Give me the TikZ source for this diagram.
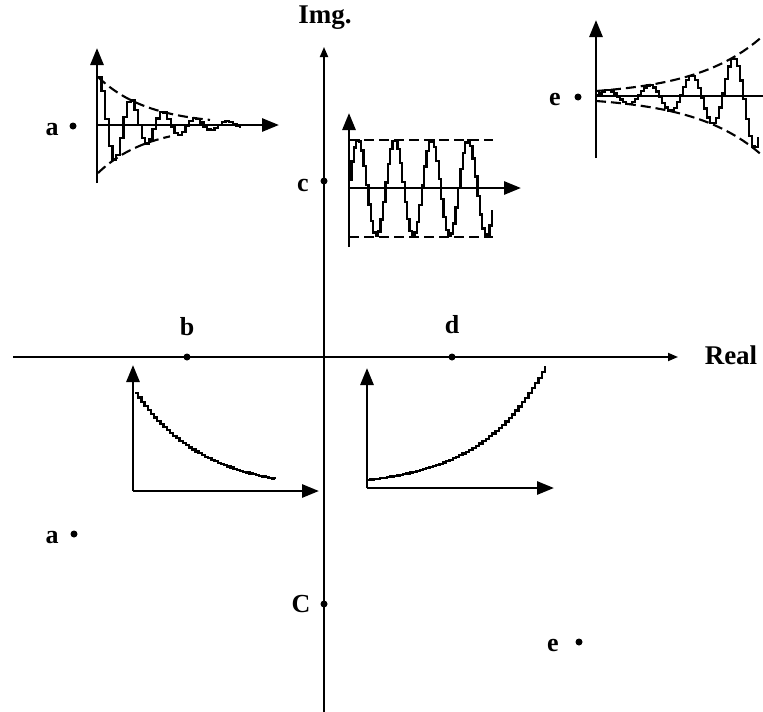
\documentclass[tikz,border=0pt]{standalone}
\usepackage{fontspec}
\setmainfont{Liberation Serif}
\usetikzlibrary{arrows.meta}
\begin{document}
\begin{tikzpicture}[x=1pt,y=-1pt,
  mainaxis/.style={line width=1.8pt,-{Triangle[length=10pt,width=8pt]}},
  insetaxis/.style={line width=2.8pt,-{Triangle[length=17pt,width=13pt]}},
  insetline/.style={line width=2.4pt},
  sig/.style={line width=2.3pt,line join=miter},
  env/.style={line width=2.1pt,dash pattern=on 10pt off 5pt},
  lbl/.style={font=\fontsize{26}{30}\selectfont\bfseries,inner sep=0pt},
  biglbl/.style={font=\fontsize{27}{30}\selectfont\bfseries,inner sep=0pt},
  dotpt/.style={circle,fill=black,inner sep=0pt,minimum size=7pt}
]
\useasboundingbox (0,0) rectangle (763,712);

% main axes
\coordinate (hstart) at (13,357);
\coordinate (hend) at (678,357);
\coordinate (vstart) at (324,712);
\coordinate (vend) at (324,47);
\draw[mainaxis] (hstart) -- (hend);
\draw[mainaxis] (vstart) -- (vend);
\node[biglbl] (img) at (325,18) {Img.};
\node[biglbl] (real) at (731,355) {Real};

% points and labels
\node[dotpt] (pb) at (187,357) {};
\node[lbl,anchor=base] (lb) at (187,335) {b};
\node[dotpt] (pd) at (452,357) {};
\node[lbl,anchor=base] (ld) at (452,333) {d};
\node[dotpt] (pc) at (324,181) {};
\node[lbl,anchor=base] (lc) at (303,191) {c};
\node[dotpt] (pC) at (324,604) {};
\node[lbl,anchor=base] (lC) at (301,612) {C};
\node[dotpt] (pa1) at (73,126) {};
\node[lbl,anchor=base] (la1) at (52,135) {a};
\node[dotpt] (pa2) at (74,534) {};
\node[lbl,anchor=base] (la2) at (52,543) {a};
\node[dotpt] (pe1) at (578,97) {};
\node[lbl,anchor=base] (le1) at (555,105) {e};
\node[dotpt] (pe2) at (579,642) {};
\node[lbl,anchor=base] (le2) at (553,651) {e};

% inset a : decaying oscillation
\coordinate (ao) at (97,125);
\coordinate (ab) at (97,183);
\coordinate (at) at (97,48);
\coordinate (ar) at (279,125);
\draw[insetaxis] (ab) -- (at);
\draw[insetaxis] (ao) -- (ar);
\draw[sig] plot[const plot,domain=98:240,samples=40] (\x,{125-48*exp(-0.02*(\x-98))*cos(11.25*(\x-98))});
\draw[env] plot[domain=98:210,samples=30] (\x,{125-48*exp(-0.02*(\x-98))});
\draw[env] plot[domain=98:170,samples=30] (\x,{125+48*exp(-0.02*(\x-98))});

% inset c : sustained oscillation
\coordinate (cb) at (349,247);
\coordinate (ct) at (349,113);
\coordinate (co) at (349,188);
\coordinate (cr) at (521,188);
\coordinate (cu1) at (349,140);
\coordinate (cu2) at (493,140);
\coordinate (cl1) at (349,237);
\coordinate (cl2) at (493,237);
\draw[insetaxis] (cb) -- (ct);
\draw[insetaxis] (co) -- (cr);
\draw[env] (cu1) -- (cu2);
\draw[env] (cl1) -- (cl2);
\draw[sig] plot[const plot,domain=349:492,samples=60] (\x,{188-48*sin(9.809*(\x-348))});

% inset e : growing oscillation
\coordinate (eb) at (596,158);
\coordinate (et) at (596,20);
\coordinate (eo) at (596,96);
\coordinate (er) at (763,96);
\draw[insetaxis] (eb) -- (et);
\draw[insetline] (eo) -- (er);
\draw[sig] plot[const plot,domain=596:758,samples=55] (\x,{96+5*exp(0.0149*(\x-596))*sin(8.5714*(\x-616.5))});
\draw[env] plot[domain=596:760,samples=30] (\x,{96-5*exp(0.0149*(\x-596))});
\draw[env] plot[domain=596:760,samples=30] (\x,{96+5*exp(0.0149*(\x-596))});

% inset b : decaying exponential
\coordinate (bo) at (133,491);
\coordinate (bt) at (133,365);
\coordinate (br) at (319,491);
\draw[insetaxis] (bo) -- (bt);
\draw[insetaxis] (bo) -- (br);
\draw[sig] plot[const plot,domain=135:275,samples=45] (\x,{491-98*exp(-0.015*(\x-135))});

% inset d : growing exponential
\coordinate (do) at (367,488);
\coordinate (dt) at (367,368);
\coordinate (dr) at (554,488);
\draw[insetaxis] (do) -- (dt);
\draw[insetaxis] (do) -- (dr);
\draw[sig] plot[const plot,domain=367:545,samples=55] (\x,{488-8*exp(0.0153*(\x-367))});
\end{tikzpicture}
\end{document}
